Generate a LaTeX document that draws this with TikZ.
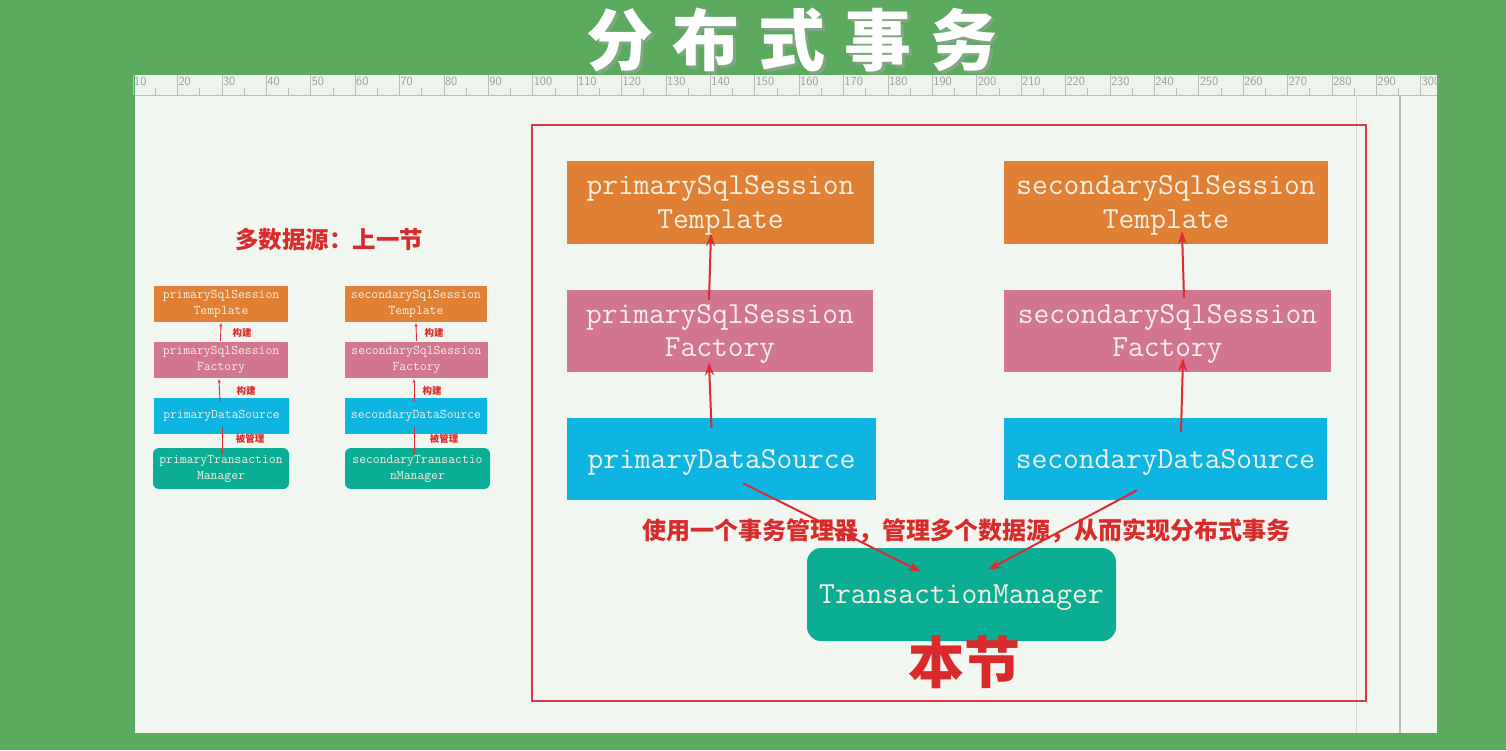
\documentclass[tikz,border=0pt]{standalone}
\usepackage{fontspec}
\newfontfamily\cjk{Noto Sans CJK SC}
\usetikzlibrary{arrows.meta,calc}
\definecolor{bggreen}{HTML}{5BAA5E}
\definecolor{page}{HTML}{F1F6F1}
\definecolor{rulerbg}{HTML}{EEF3EE}
\definecolor{tick}{HTML}{B8BDB8}
\definecolor{ticktext}{HTML}{9A9F9A}
\definecolor{orangeb}{HTML}{E08035}
\definecolor{pinkb}{HTML}{D17590}
\definecolor{cyanb}{HTML}{0EB4E2}
\definecolor{tealb}{HTML}{0BAD95}
\definecolor{boxtext}{HTML}{F5F0E2}
\definecolor{redline}{HTML}{DC2B33}
\definecolor{redtext}{HTML}{D92B2B}
\definecolor{redbox}{HTML}{D83A48}
\newcommand\lowerby[2]{\raisebox{-#1}[\height][\depth]{#2}}
\tikzset{
  bigbox/.style={rectangle, inner sep=0pt, text=boxtext, align=center,
    font=\ttfamily\fontsize{30.6}{34}\selectfont},
  smallbox/.style={rectangle, inner sep=0pt, text=boxtext, align=center,
    font=\ttfamily\fontsize{13.3}{16}\selectfont},
  bigarrow/.style={draw=redline, line width=2pt, -{Stealth[length=13pt,width=9pt]}},
  smallarrow/.style={draw=redline, line width=0.9pt, -{Stealth[length=4pt,width=3pt]}},
  smalllabel/.style={text=redtext, font=\cjk\bfseries\fontsize{9.5}{10}\selectfont, inner sep=0pt},
}
\begin{document}
\begin{tikzpicture}[x=1pt,y=-1pt]
\useasboundingbox (0,0) rectangle (1506,750);
\fill[bggreen] (0,0) rectangle (1506,750);
% page
\fill[page] (135,75) rectangle (1437,733);
\fill[rulerbg] (135,75) rectangle (1437,95);
\draw[tick, line width=0.8pt] (135,95) -- (1437,95);
\foreach \v in {10,20,...,300} {
  \pgfmathsetmacro\xx{133+(\v-10)*4.44}
  \draw[tick, line width=0.6pt] (\xx,75) -- (\xx,95);
  \pgfmathsetmacro\xh{\xx+22.2}
  \ifnum\v<300 \draw[tick, line width=0.6pt] (\xh,88) -- (\xh,95); \fi
  \node[anchor=north west, inner sep=0pt, text=ticktext, font=\sffamily\fontsize{12.5}{13}\selectfont] (r\v) at (\xx+1,77) {\v};
}
\draw[tick!60, line width=0.8pt] (1356,95) -- (1356,733);
\draw[tick, line width=2pt] (1400,95) -- (1400,733);
% title
\node[text=black!35, opacity=0.5, font=\cjk\bfseries\fontsize{67}{70}\selectfont, inner sep=0pt] (titleshadow) at (795,43)
  {分\hspace{19pt}布\hspace{19pt}式\hspace{19pt}事\hspace{19pt}务};
\node[text=white, font=\cjk\bfseries\fontsize{67}{70}\selectfont, inner sep=0pt] (title) at (792,40)
  {分\hspace{19pt}布\hspace{19pt}式\hspace{19pt}事\hspace{19pt}务};
% red frame
\draw[redbox, line width=1.8pt] (532,125) rectangle (1366,701);
% big boxes
\node[bigbox, fill=orangeb, minimum width=307pt, minimum height=83pt] (pT) at (720.5,202.5) {\lowerby{3pt}{\shortstack{primarySqlSession\\[5pt]Template}}};
\node[bigbox, fill=orangeb, minimum width=324pt, minimum height=83pt] (sT) at (1166,202.5) {\lowerby{3pt}{\shortstack{secondarySqlSession\\[5pt]Template}}};
\node[bigbox, fill=pinkb, minimum width=306pt, minimum height=82pt] (pF) at (720,331) {\lowerby{3pt}{\shortstack{primarySqlSession\\[5pt]Factory}}};
\node[bigbox, fill=pinkb, minimum width=327pt, minimum height=82pt] (sF) at (1167.5,331) {\lowerby{3pt}{\shortstack{secondarySqlSession\\[5pt]Factory}}};
\node[bigbox, fill=cyanb, minimum width=309pt, minimum height=82pt] (pDS) at (721.5,459) {\lowerby{3pt}{primaryDataSource}};
\node[bigbox, fill=cyanb, minimum width=323pt, minimum height=82pt] (sDS) at (1165.5,459) {\lowerby{3pt}{secondaryDataSource}};
\node[bigbox, fill=tealb, rounded corners=14pt, minimum width=309pt, minimum height=93pt,
  font=\ttfamily\fontsize{30.7}{34}\selectfont] (TM) at (961.5,594.5) {\lowerby{3pt}{TransactionManager}};
% big arrows
\draw[bigarrow] ([xshift=-10pt,yshift=-10pt]pDS.north) -- ([xshift=-11pt,yshift=10pt]pF.south);
\draw[bigarrow] ([xshift=-11pt,yshift=-10pt]pF.north) -- ([xshift=-9.5pt,yshift=11pt]pT.south);
\draw[bigarrow] ([xshift=15.5pt,yshift=-14pt]sDS.north) -- ([xshift=15.5pt,yshift=14pt]sF.south);
\draw[bigarrow] ([xshift=16.5pt,yshift=-8pt]sF.north) -- ([xshift=16pt,yshift=13pt]sT.south);
\draw[bigarrow] ([xshift=21.5pt,yshift=17pt]pDS.south) -- ([xshift=-40.5pt,yshift=-24pt]TM.north);
\draw[bigarrow] ([xshift=-28.5pt,yshift=10pt]sDS.south) -- ([xshift=26.5pt,yshift=-22pt]TM.north);
% captions
\node[text=redtext, font=\cjk\bfseries\fontsize{24}{26}\selectfont, inner sep=0pt] (cap) at (966,531)
  {使用一个事务管理器，管理多个数据源，从而实现分布式事务};
\node[text=redtext, font=\cjk\bfseries\fontsize{56}{60}\selectfont, inner sep=0pt] (thissec) at (964,662) {本节};
% left part
\node[text=redtext, font=\cjk\bfseries\fontsize{23.5}{26}\selectfont, inner sep=0pt] (prev) at (329,240) {多数据源：上一节};
\node[smallbox, fill=orangeb, minimum width=134pt, minimum height=36pt] (lpT) at (221,304) {primarySqlSession\\Template};
\node[smallbox, fill=pinkb, minimum width=134pt, minimum height=36pt] (lpF) at (221,360) {primarySqlSession\\Factory};
\node[smallbox, fill=cyanb, minimum width=135pt, minimum height=36pt] (lpDS) at (221.5,416) {primaryDataSource};
\node[smallbox, fill=tealb, rounded corners=6pt, minimum width=136pt, minimum height=41pt] (lpTM) at (221,468.5) {primaryTransaction\\Manager};
\node[smallbox, fill=orangeb, minimum width=142pt, minimum height=36pt] (lsT) at (416,304) {secondarySqlSession\\Template};
\node[smallbox, fill=pinkb, minimum width=143pt, minimum height=36pt] (lsF) at (416.5,360) {secondarySqlSession\\Factory};
\node[smallbox, fill=cyanb, minimum width=142pt, minimum height=36pt] (lsDS) at (416,416) {secondaryDataSource};
\node[smallbox, fill=tealb, rounded corners=6pt, minimum width=145pt, minimum height=41pt] (lsTM) at (417.5,468.5) {secondaryTransactio\\nManager};
% small arrows
\draw[smallarrow] ([xshift=-0.5pt,yshift=1pt]lpF.north) -- ([xshift=0pt,yshift=-1pt]lpT.south);
\draw[smallarrow] ([xshift=-1.5pt,yshift=-4pt]lpDS.north) -- ([xshift=-2pt,yshift=-1pt]lpF.south);
\draw[smallarrow] ([xshift=0.5pt,yshift=7pt]lpDS.south) -- ([xshift=1pt,yshift=-7pt]lpTM.north);
\draw[smallarrow] ([xshift=0pt,yshift=1pt]lsF.north) -- ([xshift=0pt,yshift=-1pt]lsT.south);
\draw[smallarrow] ([xshift=-2pt,yshift=-4pt]lsDS.north) -- ([xshift=-2.5pt,yshift=-1pt]lsF.south);
\draw[smallarrow] ([xshift=-2pt,yshift=7pt]lsDS.south) -- ([xshift=-3.5pt,yshift=-7pt]lsTM.north);
\node[smalllabel] (l1) at (242,333) {构建};
\node[smalllabel] (l2) at (246,391) {构建};
\node[smalllabel] (l3) at (250,439) {被管理};
\node[smalllabel] (l4) at (434,333) {构建};
\node[smalllabel] (l5) at (432,391) {构建};
\node[smalllabel] (l6) at (444,439) {被管理};
\end{tikzpicture}
\end{document}
